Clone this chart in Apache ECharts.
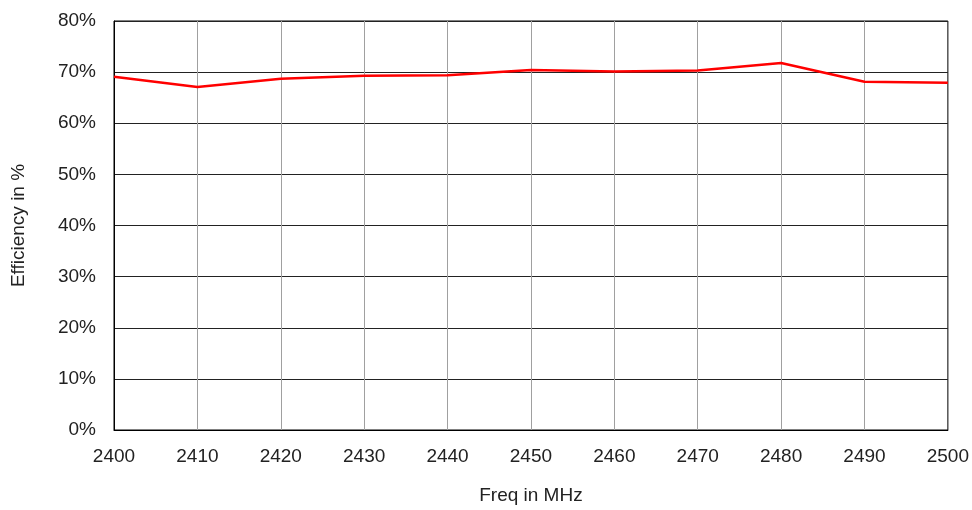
<!DOCTYPE html>
<html>
<head>
<meta charset="utf-8">
<script src="https://cdn.jsdelivr.net/npm/echarts@6/dist/echarts.min.js"></script>
<style>
html,body{margin:0;padding:0;background:#fff;}
#chart{width:972px;height:510px;}
</style>
</head>
<body>
<div id="chart"></div>
<script>
const freqs = [2400, 2410, 2420, 2430, 2440, 2450, 2460, 2470, 2480, 2490, 2500];
const efficiency = [69.1, 67.1, 68.7, 69.3, 69.4, 70.4, 70.1, 70.3, 71.8, 68.1, 67.9];
const xTitle = 'Freq in MHz';
const yTitle = 'Efficiency in %';

const chart = echarts.init(document.getElementById('chart'));
const font = 'Liberation Sans, Arial, sans-serif';
chart.setOption({
  animation: false,
  backgroundColor: '#fff',
  grid: { left: 114, right: 24, top: 21, bottom: 77, show: true, borderColor: '#000', borderWidth: 1, containLabel: false },
  xAxis: {
    type: 'value', min: 2400, max: 2500, interval: 10,
    name: xTitle, nameLocation: 'middle', nameGap: 56,
    nameTextStyle: { color: '#222', fontSize: 19, fontFamily: font },
    axisLine: { show: true, lineStyle: { color: '#000', width: 1 } },
    axisTick: { show: false },
    axisLabel: { color: '#222', fontSize: 19, fontFamily: font, margin: 17, formatter: v => String(v) },
    splitLine: { show: true, lineStyle: { color: '#a0a0a0', width: 1 } }
  },
  yAxis: {
    type: 'value', min: 0, max: 80, interval: 10,
    name: yTitle, nameLocation: 'middle', nameGap: 86, nameRotate: 90,
    nameTextStyle: { color: '#222', fontSize: 19, fontFamily: font },
    axisLine: { show: true, lineStyle: { color: '#000', width: 1 } },
    axisTick: { show: false },
    axisLabel: { color: '#222', fontSize: 19, fontFamily: font, margin: 18, formatter: '{value}%' },
    splitLine: { show: true, lineStyle: { color: '#222', width: 1 } }
  },
  series: [{
    type: 'line',
    data: freqs.map((f, i) => [f, efficiency[i]]),
    showSymbol: false,
    lineStyle: { color: '#ff0000', width: 2.5 },
    itemStyle: { color: '#ff0000' }
  }]
});
</script>
</body>
</html>
